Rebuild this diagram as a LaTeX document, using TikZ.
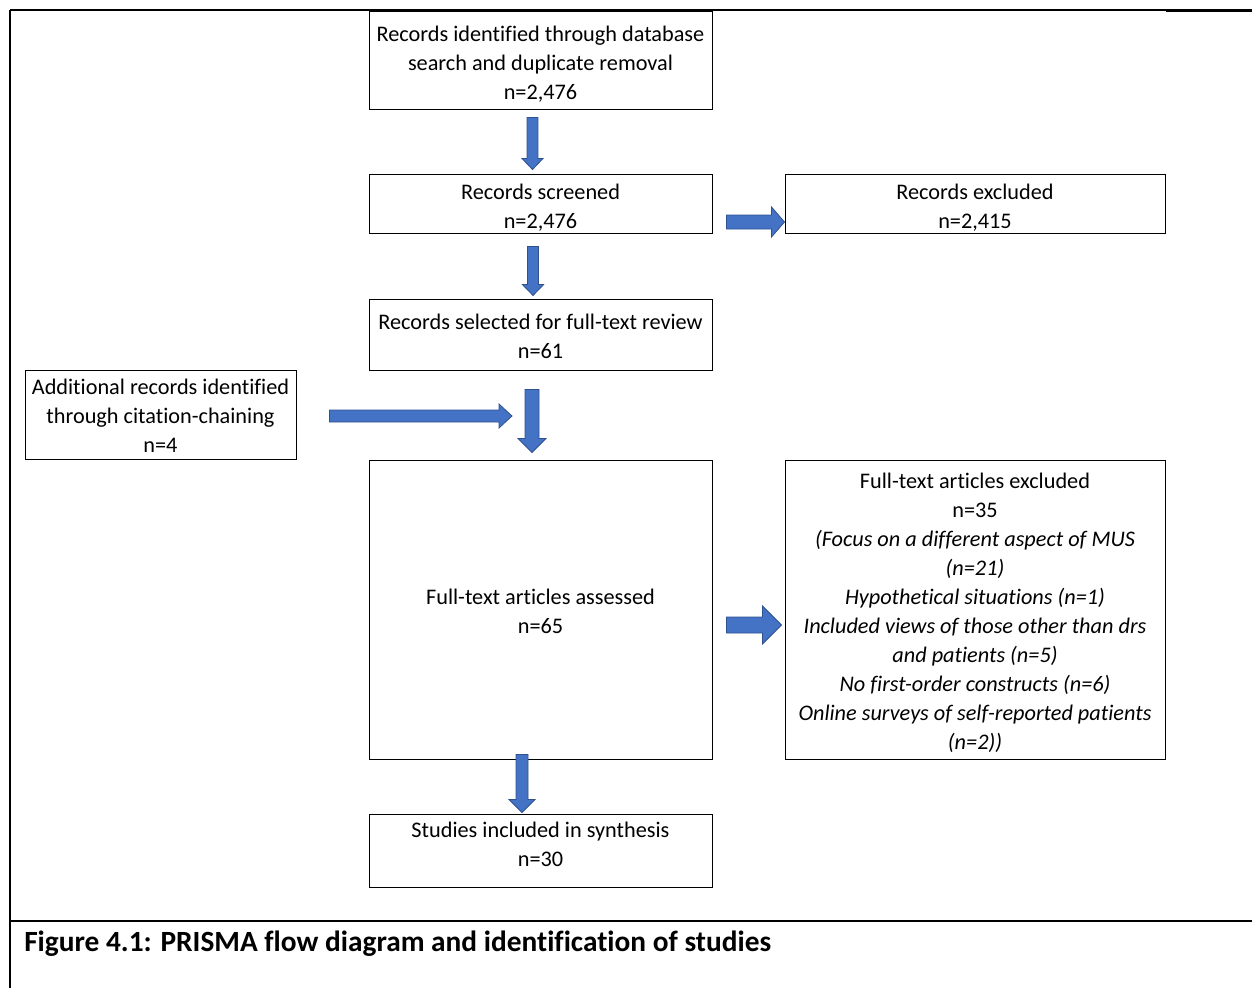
\documentclass[tikz,border=0pt]{standalone}
\usepackage{fontspec}
\setmainfont{Carlito}[Ligatures=NoCommon]
\usetikzlibrary{calc}
\definecolor{arrowfill}{HTML}{4472C4}
\definecolor{arrowline}{HTML}{2F528F}

\tikzset{
  box/.style={draw=black, line width=0.75pt, align=center, inner sep=0pt,
    font=\fontsize{16.7}{21.75}\selectfont},
  blk/.style={fill=arrowfill, draw=arrowline, line width=0.6pt, line join=miter},
}

% centred lines of box text, moved down by #1 without changing the box size
\newsavebox{\linesbox}
\newcommand{\boxtxt}[2]{%
  \sbox{\linesbox}{\begin{tabular}{@{}c@{}}#2\end{tabular}}%
  \raisebox{-#1}[\ht\linesbox][\dp\linesbox]{\usebox{\linesbox}}}

% block arrow pointing down: start, tip, half shaft, half head, head length
\newcommand{\blkdown}[5]{%
  \filldraw[blk] let \p1=(#1), \p2=(#2) in
    (\x2-#3,\y1) -- (\x2+#3,\y1) -- (\x2+#3,\y2+#5) -- (\x2+#4,\y2+#5)
    -- (\x2,\y2) -- (\x2-#4,\y2+#5) -- (\x2-#3,\y2+#5) -- cycle;}
% block arrow pointing right: start, tip, half shaft, half head, head length
\newcommand{\blkright}[5]{%
  \filldraw[blk] let \p1=(#1), \p2=(#2) in
    (\x1,\y1-#3) -- (\x1,\y1+#3) -- (\x2-#5,\y1+#3) -- (\x2-#5,\y1+#4)
    -- (\x2,\y1) -- (\x2-#5,\y1-#4) -- (\x2-#5,\y1-#3) -- cycle;}

\begin{document}
\begin{tikzpicture}[x=0.75pt, y=-0.75pt]
\useasboundingbox (0,0) rectangle (1252,988);

% frame and caption rule
\draw[line width=1.2pt] (10,10) -- (10,988);
\draw[line width=0.9pt] (10,10) -- (1166,10);
\draw[line width=1.8pt] (1166,10.5) -- (1252,10.5);
\draw[line width=1.6pt] (10,921) -- (1252,921);

% boxes
\node[box, minimum width=257.25pt, minimum height=73.5pt] (a) at (540.5,61)
  {\boxtxt{3pt}{Records identified through database\\search and duplicate removal\\n=2,476}};
\node[box, minimum width=257.25pt, minimum height=43.5pt] (b) at (540.5,204)
  {\boxtxt{3pt}{Records screened\\n=2,476}};
\node[box, minimum width=285pt, minimum height=43.5pt] (c) at (975,204)
  {\boxtxt{3pt}{Records excluded\\n=2,415}};
\node[box, minimum width=257.25pt, minimum height=53.25pt] (d) at (540.5,334.5)
  {\boxtxt{3pt}{Records selected for full-text review\\n=61}};
\node[box, minimum width=203.25pt, minimum height=66.75pt] (e) at (160.5,414.5)
  {\boxtxt{2.5pt}{Additional records identified\\through citation-chaining\\n=4}};
\node[box, minimum width=257.25pt, minimum height=224.25pt] (f) at (540.5,609.5)
  {\boxtxt{3pt}{Full-text articles assessed\\n=65}};
\node[box, minimum width=285pt, minimum height=224.25pt] (g) at (975,609.5)
  {\boxtxt{3pt}{Full-text articles excluded\\n=35\\
   \itshape (Focus on a different aspect of MUS\\\itshape (n=21)\\
   \itshape Hypothetical situations (n=1)\\
   \itshape Included views of those other than drs\\\itshape and patients (n=5)\\
   \itshape No first-order constructs (n=6)\\
   \itshape Online surveys of self-reported patients\\\itshape (n=2))}};
\node[box, minimum width=257.25pt, minimum height=54.75pt] (h) at (540.5,850.5)
  {\boxtxt{-3pt}{Studies included in synthesis\\n=30}};

% block arrows
\blkdown{$(a.south)+(-8,7)$}{$(b.north)+(-8,-5)$}{4.1pt}{7.9pt}{8.25pt}
\blkdown{$(b.south)+(-7.5,13)$}{$(d.north)+(-7.5,-3)$}{4.1pt}{8pt}{8.25pt}
\blkdown{$(d.south)+(-8.5,19)$}{$(f.north)+(-8.5,-7)$}{5.25pt}{10.5pt}{10.5pt}
\blkdown{$(f.south)+(-18.5,-5)$}{$(h.north)+(-18.5,-1)$}{4.5pt}{9.75pt}{9.75pt}
\blkright{$(b.east)+(14,18)$}{$(c.west)+(0,18)$}{5.25pt}{11.25pt}{9.75pt}
\blkright{$(e.east)+(33,1.5)$}{$(f.north)+(-28.5,0)$}{4.5pt}{9pt}{9.75pt}
\blkright{$(f.east)+(14,15.5)$}{$(g.west)+(-3,15.5)$}{6pt}{14.25pt}{14.25pt}

% caption
\node[anchor=west, inner sep=0pt, font=\bfseries\fontsize{22}{26}\selectfont] (cap) at (24,943.5)
  {Figure 4.1: PRISMA flow diagram and identification of studies};
\end{tikzpicture}
\end{document}
